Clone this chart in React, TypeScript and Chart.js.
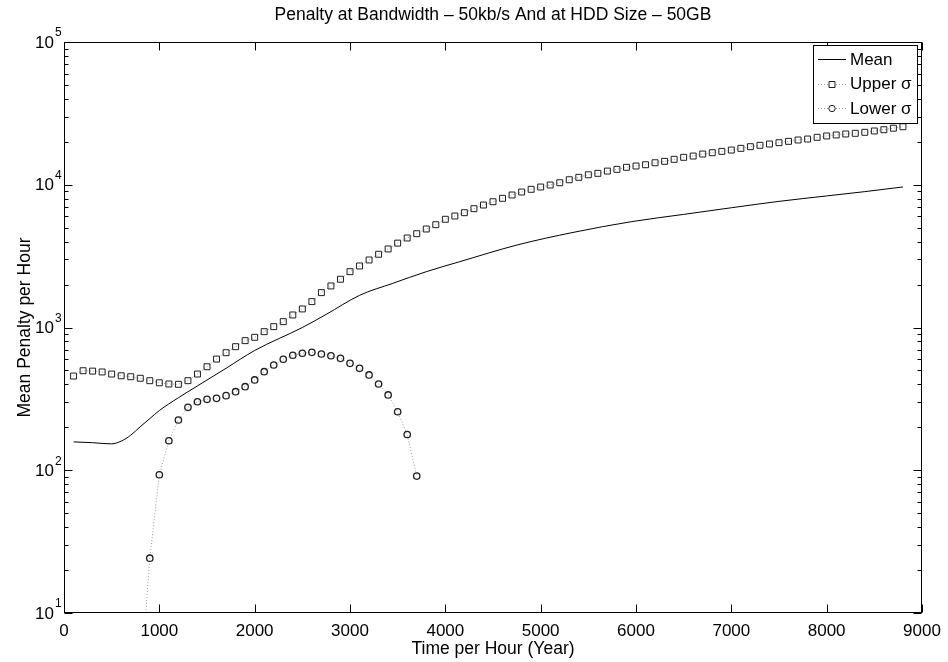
import React, { useEffect, useRef } from "react";
import { Chart, registerables } from "chart.js";

Chart.register(...registerables);

const FONT = "'Liberation Sans', Arial, Helvetica, sans-serif";

const TITLE = "Penalty at Bandwidth – 50kb/s And at HDD Size – 50GB";
const X_LABEL = "Time per Hour (Year)";
const Y_LABEL = "Mean Penalty per Hour";
const LEGEND_LABELS = ["Mean", "Upper σ", "Lower σ"];

const X_TICKS = [0, 1000, 2000, 3000, 4000, 5000, 6000, 7000, 8000, 9000];
const Y_EXPONENTS = [1, 2, 3, 4, 5];

// Mean (solid line)
const MEAN_X = [100, 300, 500, 600, 700, 800, 900, 1000, 1200, 1400, 1700, 2000, 2500, 2750, 3100, 3450, 3800, 4150, 4750, 5350, 5950, 6500, 7000, 7500, 8000, 8400, 8800];
const MEAN_Y = [158, 156, 153, 160, 176, 202, 230, 262, 322, 390, 518, 690, 1000, 1235, 1680, 2040, 2460, 2890, 3780, 4650, 5510, 6200, 6900, 7650, 8350, 8950, 9650];

// Upper sigma (squares)
const UPPER_X = [
  100, 200, 300, 400, 500, 600, 700, 800, 900, 1000,
  1100, 1200, 1300, 1400, 1500, 1600, 1700, 1800, 1900, 2000,
  2100, 2200, 2300, 2400, 2500, 2600, 2700, 2800, 2900, 3000,
  3100, 3200, 3300, 3400, 3500, 3600, 3700, 3800, 3900, 4000,
  4100, 4200, 4300, 4400, 4500, 4600, 4700, 4800, 4900, 5000,
  5100, 5200, 5300, 5400, 5500, 5600, 5700, 5800, 5900, 6000,
  6100, 6200, 6300, 6400, 6500, 6600, 6700, 6800, 6900, 7000,
  7100, 7200, 7300, 7400, 7500, 7600, 7700, 7800, 7900, 8000,
  8100, 8200, 8300, 8400, 8500, 8600, 8700, 8800,
];
const UPPER_Y = [
  457, 498, 495, 488, 472, 459, 452, 441, 424, 410,
  402, 400, 424, 472, 531, 601, 666, 734, 809, 854,
  935, 1014, 1099, 1224, 1349, 1518, 1755, 1955, 2178, 2461,
  2698, 2972, 3258, 3550, 3900, 4236, 4540, 4898, 5250, 5730,
  6040, 6370, 6796, 7210, 7605, 8035, 8476, 8894, 9290, 9640,
  9957, 10330, 10840, 11270, 11750, 12020, 12470, 12820, 13250, 13530,
  13810, 14260, 14590, 15070, 15560, 15890, 16410, 16760, 17130, 17500,
  17990, 18480, 18890, 19290, 19710, 20140, 20580, 20910, 21490, 21960,
  22320, 22680, 22920, 23300, 23800, 24300, 24900, 25500,
];

// Lower sigma (circles); the first value falls below the axis
const LOWER_X = [800, 900, 1000, 1100, 1200, 1300, 1400, 1500, 1600, 1700, 1800, 1900, 2000, 2100, 2200, 2300, 2400, 2500, 2600, 2700, 2800, 2900, 3000, 3100, 3200, 3300, 3400, 3500, 3600, 3700];
const LOWER_Y = [3, 24.2, 93, 161, 225, 276, 302, 314, 319, 333, 355, 385, 429, 490, 546, 599, 639, 660, 670, 652, 634, 608, 561, 518, 465, 402, 337, 257, 178, 91];

const DOT_LINE = "#9c9c9c";
const MARKER = "#1e1e1e";

const framePlugin = {
  id: "matlabFrame",
  afterDraw(chart: any) {
    const { ctx, chartArea: a, scales } = chart;
    const xs = scales.x;
    const ys = scales.y;
    const L = Math.round(a.left) + 0.5;
    const R = Math.round(a.right) - 0.5;
    const T = Math.round(a.top) + 0.5;
    const B = Math.round(a.bottom) - 0.5;
    ctx.save();
    ctx.strokeStyle = "#000";
    ctx.lineWidth = 1;
    ctx.setLineDash([]);
    ctx.strokeRect(L, T, R - L, B - T);

    // x ticks (bottom and top, inward)
    ctx.beginPath();
    X_TICKS.forEach((v) => {
      const px = Math.round(xs.getPixelForValue(v)) + 0.5;
      ctx.moveTo(px, B);
      ctx.lineTo(px, B - 8);
      ctx.moveTo(px, T);
      ctx.lineTo(px, T + 8);
    });
    // y ticks (left and right, inward), major + minor
    Y_EXPONENTS.forEach((e) => {
      for (let m = 1; m <= 9; m++) {
        if (e === 5 && m > 1) break;
        const v = m * Math.pow(10, e);
        const py = Math.round(ys.getPixelForValue(v)) + 0.5;
        const len = m === 1 ? 8 : 4;
        ctx.moveTo(L, py);
        ctx.lineTo(L + len, py);
        ctx.moveTo(R, py);
        ctx.lineTo(R - len, py);
      }
    });
    ctx.stroke();

    // y tick labels 10^e
    ctx.fillStyle = "#000";
    Y_EXPONENTS.forEach((e) => {
      const py = ys.getPixelForValue(Math.pow(10, e));
      ctx.font = `17px ${FONT}`;
      ctx.textAlign = "right";
      ctx.textBaseline = "middle";
      ctx.fillText("10", 54, py + 1);
      ctx.font = `12px ${FONT}`;
      ctx.textAlign = "left";
      ctx.fillText(String(e), 55, py - 9);
    });

    // legend box
    const bx = 813.5, by = 45.5, bw = 104, bh = 78;
    ctx.fillStyle = "#fff";
    ctx.fillRect(bx, by, bw, bh);
    ctx.strokeStyle = "#000";
    ctx.strokeRect(bx, by, bw, bh);
    const rows = [59, 83.5, 108];
    chart.data.datasets.forEach((ds: any, i: number) => {
      const y = Math.round(rows[i]) + 0.5;
      ctx.save();
      ctx.strokeStyle = ds.borderColor;
      ctx.lineWidth = 1;
      ctx.setLineDash(ds.borderDash || []);
      ctx.beginPath();
      ctx.moveTo(818, y);
      ctx.lineTo(846, y);
      ctx.stroke();
      ctx.setLineDash([]);
      if (ds.pointRadius > 0) {
        ctx.strokeStyle = ds.pointBorderColor;
        ctx.beginPath();
        if (ds.pointStyle === "rect") {
          ctx.rect(829, y - 3, 6, 6);
        } else {
          ctx.arc(832, y, 3.2, 0, Math.PI * 2);
        }
        ctx.fillStyle = "#fff";
        ctx.fill();
        ctx.stroke();
      }
      ctx.restore();
      ctx.fillStyle = "#000";
      ctx.font = `17px ${FONT}`;
      ctx.textAlign = "left";
      ctx.textBaseline = "middle";
      ctx.fillText(LEGEND_LABELS[i], 850, rows[i] + 1);
    });
    ctx.restore();
  },
};

export default function App() {
  const ref = useRef<HTMLCanvasElement | null>(null);

  useEffect(() => {
    const canvas = ref.current;
    if (!canvas) return;
    const chart = new Chart(canvas, {
      type: "line",
      data: {
        datasets: [
          {
            label: LEGEND_LABELS[0],
            data: MEAN_X.map((x, i) => ({ x, y: MEAN_Y[i] })),
            borderColor: "#000",
            borderWidth: 1,
            pointRadius: 0,
            cubicInterpolationMode: "monotone",
          },
          {
            label: LEGEND_LABELS[1],
            data: UPPER_X.map((x, i) => ({ x, y: UPPER_Y[i] })),
            borderColor: DOT_LINE,
            borderWidth: 1,
            borderDash: [1, 2],
            pointStyle: "rect",
            pointRadius: 4.2,
            pointBorderWidth: 1,
            pointBorderColor: MARKER,
            pointBackgroundColor: "rgba(255,255,255,0)",
          },
          {
            label: LEGEND_LABELS[2],
            data: LOWER_X.map((x, i) => ({ x, y: LOWER_Y[i] })),
            borderColor: DOT_LINE,
            borderWidth: 1,
            borderDash: [1, 2],
            pointStyle: "circle",
            pointRadius: 3.2,
            pointBorderWidth: 1.3,
            pointBorderColor: MARKER,
            pointBackgroundColor: "rgba(255,255,255,0)",
          },
        ] as any,
      },
      options: {
        animation: false,
        responsive: false,
        devicePixelRatio: 1,
        layout: { padding: { left: 0, right: 26, top: 0, bottom: 0 } },
        plugins: {
          legend: { display: false },
          tooltip: { enabled: false },
          title: {
            display: true,
            text: TITLE,
            color: "#000",
            fullSize: false,
            font: { family: FONT, size: 17.5, weight: "normal" },
            padding: { top: 5, bottom: 16 },
          },
        },
        scales: {
          x: {
            type: "linear",
            min: 0,
            max: 9000,
            grid: { display: false, drawTicks: false },
            border: { display: false },
            ticks: {
              stepSize: 1000,
              autoSkip: false,
              maxRotation: 0,
              padding: 8,
              color: "#000",
              font: { family: FONT, size: 17 },
              callback: (v: any) => String(v),
            },
            title: {
              display: true,
              text: X_LABEL,
              color: "#000",
              font: { family: FONT, size: 17.5 },
              padding: { top: 0, bottom: 2 },
            },
            afterFit: (s: any) => {
              s.height = 49;
              s.paddingLeft = 0;
              s.paddingRight = 0;
            },
          },
          y: {
            type: "logarithmic",
            min: 10,
            max: 100000,
            grid: { display: false, drawTicks: false },
            border: { display: false },
            ticks: { display: false },
            title: {
              display: true,
              text: Y_LABEL,
              color: "#000",
              font: { family: FONT, size: 17.5 },
              padding: { top: 15, bottom: 0 },
            },
            afterFit: (s: any) => {
              s.width = 64;
              s.paddingTop = 0;
              s.paddingBottom = 0;
            },
          },
        },
      } as any,
      plugins: [framePlugin],
    });
    return () => chart.destroy();
  }, []);

  return (
    <div style={{ position: "absolute", left: 0, top: 0, width: 948, height: 662, background: "#fff" }}>
      <canvas ref={ref} width={948} height={662} style={{ display: "block" }} />
    </div>
  );
}
